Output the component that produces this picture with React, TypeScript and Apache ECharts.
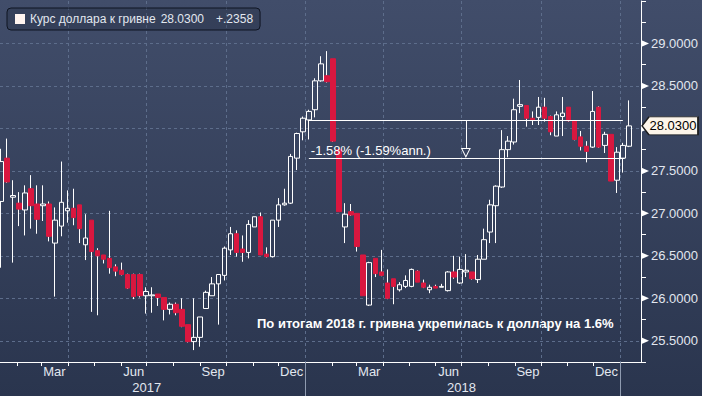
import React, { useEffect, useRef } from 'react';
import * as echarts from 'echarts';

// ---------- data ----------
const seriesName = 'Курс доллара к гривне';
const legendLast = '28.0300';
const legendChange = '+.2358';
const firstWeek = '2017-01-13';
const axisStart = '2017-01-12';
const axisEnd = '2019-01-25';

const opens = [
  27.14, 27.65, 27.19, 27.12, 27.04, 27.29, 27.11, 27.09, 27.11, 26.65,
  26.85, 27.03, 27.06, 27.10, 26.63, 26.92, 26.56, 26.51, 26.47, 26.37,
  26.33, 26.28, 26.28, 26.28, 26.03, 26.03, 26.05, 26.01, 25.87, 25.93,
  25.87, 25.69, 25.49, 25.54, 25.88, 26.03, 26.17, 26.27, 26.57, 26.76,
  26.58, 26.54, 26.84, 26.96, 26.52, 26.49, 26.92, 27.10, 27.12, 27.65,
  27.96, 28.10, 28.22, 28.56, 28.62, 28.82, 27.75, 26.84, 27.02, 27.00,
  26.51, 25.92, 26.47, 26.31, 26.18, 26.23, 26.10, 26.14, 26.14, 26.32,
  26.18, 26.10, 26.14, 26.13, 26.09, 26.31, 26.18, 26.31, 26.31, 26.22,
  26.46, 26.78, 27.09, 27.31, 27.75, 27.84, 28.26, 28.27, 28.12, 28.13,
  28.25, 28.14, 27.91, 28.14, 28.25, 28.09, 27.90, 27.79, 27.78, 28.25,
  27.80, 27.93, 27.39, 27.65, 27.79,
];
const closes = [
  27.61, 27.37, 27.21, 27.05, 27.24, 27.09, 26.93, 27.11, 26.73, 26.92,
  27.13, 27.06, 26.95, 26.82, 26.71, 26.55, 26.50, 26.46, 26.36, 26.32,
  26.28, 26.12, 26.02, 26.03, 26.08, 26.04, 26.01, 25.87, 25.93, 25.83,
  25.67, 25.49, 25.54, 25.78, 26.07, 26.17, 26.28, 26.59, 26.76, 26.54,
  26.54, 26.87, 26.96, 26.51, 26.49, 26.92, 27.10, 27.12, 27.67, 27.94,
  28.12, 28.20, 28.56, 28.76, 28.55, 27.85, 27.02, 26.99, 26.98, 26.61,
  26.03, 26.42, 26.29, 26.27, 26.00, 26.14, 26.16, 26.21, 26.34, 26.19,
  26.13, 26.13, 26.12, 26.14, 26.31, 26.25, 26.34, 26.33, 26.23, 26.46,
  26.69, 27.10, 27.32, 27.75, 27.85, 28.22, 28.28, 28.12, 28.10, 28.25,
  28.12, 27.96, 28.16, 28.18, 28.09, 27.87, 27.79, 27.73, 28.20, 27.78,
  27.93, 27.38, 27.72, 27.80, 28.03,
];
const lows = [
  26.36, 27.36, 26.42, 26.85, 26.74, 26.82, 26.76, 26.91, 26.67, 26.02,
  26.73, 26.89, 26.86, 26.65, 26.45, 25.84, 25.80, 26.41, 26.29, 26.26,
  26.27, 26.11, 25.99, 26.01, 25.82, 25.83, 25.91, 25.74, 25.81, 25.80,
  25.66, 25.48, 25.39, 25.43, 25.88, 26.03, 25.69, 26.21, 26.51, 26.49,
  26.43, 26.47, 26.84, 26.51, 26.48, 26.48, 26.84, 27.09, 27.11, 27.51,
  27.86, 27.87, 28.13, 28.55, 28.54, 27.84, 27.02, 26.65, 26.97, 26.55,
  26.03, 25.91, 26.25, 26.26, 25.99, 25.93, 26.08, 26.12, 26.13, 26.19,
  26.12, 26.06, 26.12, 26.13, 26.08, 26.23, 26.17, 26.25, 26.22, 26.18,
  26.46, 26.65, 26.65, 27.30, 27.66, 27.81, 28.18, 28.02, 28.04, 28.04,
  28.08, 27.92, 27.91, 27.91, 28.08, 27.86, 27.74, 27.60, 27.77, 27.77,
  27.71, 27.38, 27.24, 27.48, 27.78,
];
const highs = [
  27.76, 27.88, 27.39, 27.25, 27.33, 27.45, 27.33, 27.33, 27.14, 27.07,
  27.61, 27.27, 27.29, 27.10, 26.99, 26.92, 26.59, 26.51, 27.03, 26.40,
  26.42, 26.29, 26.29, 26.29, 26.13, 26.13, 26.05, 26.01, 25.95, 25.95,
  26.00, 25.69, 26.00, 25.78, 26.09, 26.25, 26.28, 26.61, 26.84, 26.80,
  26.74, 26.92, 26.96, 27.01, 26.60, 26.92, 27.18, 27.29, 27.70, 27.95,
  28.14, 28.22, 28.59, 28.85, 28.91, 28.82, 27.76, 27.12, 27.11, 27.00,
  26.51, 26.43, 26.47, 26.57, 26.34, 26.23, 26.19, 26.27, 26.35, 26.33,
  26.22, 26.16, 26.16, 26.17, 26.32, 26.50, 26.49, 26.52, 26.31, 26.51,
  26.82, 27.16, 27.33, 27.98, 27.91, 28.35, 28.57, 28.27, 28.20, 28.37,
  28.36, 28.15, 28.20, 28.37, 28.25, 28.09, 27.97, 27.85, 28.44, 28.26,
  27.96, 27.93, 27.78, 27.83, 28.33,
];

const yGridLevels = [25.5, 26, 26.5, 27, 27.5, 28, 28.5, 29];
const yHiddenLabels = [28]; // covered by the last-price marker
const monthNames = ['Jan', 'Feb', 'Mar', 'Apr', 'May', 'Jun', 'Jul', 'Aug', 'Sep', 'Oct', 'Nov', 'Dec'];
const labeledMonths = ['03', '06', '09', '12'];
const quarterMonths = ['01', '04', '07', '10'];

const changeFrom = '2018-01-05';
const changeToUpper = '2019-01-04';
const changeToLower = '2019-01-06';
const changeUpper = 28.095;
const changeLower = 27.651;
const changeText = '-1.58% (-1.59%ann.)';
const arrowDate = '2018-07-06';
const lastPrice = 28.03;
const noteText = 'По итогам 2018 г. гривна укрепилась к доллару на 1.6%';

// ---------- styling ----------
const FONT = '"Liberation Sans", Arial, sans-serif';
const RED = '#d9173f';
const WHITE = '#ffffff';
const LABEL = '#e2e7ef';
const GRID = '#5d6d8b';

const DAY = 86400000;
const toUTC = (s: string) => Date.parse(s + 'T00:00:00Z');
const fmt = (t: number) => new Date(t).toISOString().slice(0, 10);

export default function App() {
  const ref = useRef<HTMLDivElement>(null);
  useEffect(() => {
    document.body.style.margin = '0';
    if (!ref.current) return;
    const chart = echarts.init(ref.current, undefined, { renderer: 'svg' });

    const days: string[] = [];
    for (let t = toUTC(axisStart); t <= toUTC(axisEnd); t += DAY) days.push(fmt(t));
    const idx = new Map(days.map((d, i) => [d, i]));
    const empty = () => ['-', '-', '-', '-'];
    const bodyData: any[] = days.map(empty);
    const upData: any[] = days.map(empty);
    const loData: any[] = days.map(empty);
    opens.forEach((o, k) => {
      const d = fmt(toUTC(firstWeek) + k * 7 * DAY);
      const i = idx.get(d);
      if (i === undefined) return;
      const c = closes[k];
      const top = Math.max(o, c);
      const bot = Math.min(o, c);
      bodyData[i] = [o, c, bot, top];
      upData[i] = [top, top, top, highs[k]];
      loData[i] = [bot, bot, lows[k], bot];
    });
    const lastDay = days[days.length - 1];

    const wickStyle = { color: WHITE, color0: WHITE, borderColor: WHITE, borderColor0: WHITE, borderWidth: 1 };

    const option: any = {
      animation: false,
      backgroundColor: 'transparent',
      textStyle: { fontFamily: FONT },
      grid: { left: 0, right: 61, top: 1, bottom: 34, containLabel: false },
      legend: {
        left: 7,
        top: 8,
        padding: [5, 7, 5, 8],
        itemWidth: 10,
        itemHeight: 10,
        icon: 'rect',
        selectedMode: false,
        backgroundColor: 'rgba(20,28,45,0.25)',
        borderColor: '#0f1522',
        borderWidth: 1,
        borderRadius: 4,
        data: [{ name: seriesName, itemStyle: { color: '#fff4ef', borderWidth: 0 } }],
        formatter: (name: string) => `{n|${name}}{v|${legendLast}}{c|${legendChange}}`,
        textStyle: {
          color: LABEL,
          fontSize: 12,
          fontFamily: FONT,
          rich: {
            n: { color: LABEL, fontSize: 12, fontFamily: FONT, lineHeight: 16 },
            v: { color: LABEL, fontSize: 12, fontFamily: FONT, lineHeight: 16, padding: [0, 0, 0, 5] },
            c: { color: LABEL, fontSize: 12, fontFamily: FONT, lineHeight: 16, padding: [0, 0, 0, 12] },
          },
        },
      },
      xAxis: [
        {
          type: 'category',
          data: days,
          boundaryGap: false,
          axisLine: { show: true, lineStyle: { color: WHITE, width: 1 } },
          axisTick: {
            show: true,
            interval: (_i: number, v: string) => v.slice(8) === '01',
            length: 4,
            lineStyle: { color: WHITE },
          },
          axisLabel: {
            interval: (_i: number, v: string) => v.slice(8) === '16' && labeledMonths.includes(v.slice(5, 7)),
            formatter: (v: string) => monthNames[+v.slice(5, 7) - 1],
            color: LABEL,
            fontSize: 13,
            fontFamily: FONT,
            margin: 3,
          },
          splitLine: {
            show: true,
            interval: (_i: number, v: string) => v.slice(8) === '01' && quarterMonths.includes(v.slice(5, 7)),
            lineStyle: { color: GRID, type: [3, 3], width: 1 },
          },
        },
        {
          type: 'category',
          data: days,
          boundaryGap: false,
          position: 'bottom',
          offset: 0,
          axisLine: { show: false },
          axisTick: {
            show: true,
            interval: (_i: number, v: string) => v.slice(5) === '01-01',
            length: 35,
            lineStyle: { color: '#8f9bb0' },
          },
          axisLabel: {
            interval: (_i: number, v: string) => v.slice(5) === '07-01',
            formatter: (v: string) => v.slice(0, 4),
            color: LABEL,
            fontSize: 13,
            fontFamily: FONT,
            margin: 19,
          },
          splitLine: { show: false },
        },
      ],
      yAxis: {
        type: 'value',
        position: 'right',
        min: 25.25,
        max: 29.5,
        interval: 0.25,
        axisLine: { show: true, lineStyle: { color: WHITE, width: 1 } },
        axisTick: { show: true, length: 5, lineStyle: { color: WHITE } },
        axisLabel: {
          formatter: (v: number) =>
            Math.abs(v * 2 - Math.round(v * 2)) < 1e-6 &&
            v >= 25.5 &&
            v <= 29 &&
            !yHiddenLabels.some((h) => Math.abs(h - v) < 1e-6)
              ? v.toFixed(4)
              : '',
          color: LABEL,
          fontSize: 13,
          fontFamily: FONT,
          margin: 10,
        },
        splitLine: { show: false },
      },
      series: [
        {
          name: 'lower',
          type: 'candlestick',
          large: false,
          data: loData,
          barWidth: 1,
          itemStyle: wickStyle,
          markLine: {
            silent: true,
            z: 1,
            symbol: ['none', 'none'],
            label: { show: false },
            lineStyle: { color: GRID, type: [3, 3], width: 1 },
            data: yGridLevels.map((v) => ({ yAxis: v })),
          },
        },
        {
          name: 'upper',
          type: 'candlestick',
          large: false,
          data: upData,
          barWidth: 1,
          itemStyle: wickStyle,
        },
        {
          name: seriesName,
          type: 'candlestick',
          large: false,
          data: bodyData,
          barWidth: 5,
          itemStyle: { color: 'transparent', color0: RED, borderColor: WHITE, borderColor0: RED, borderWidth: 1 },
          markLine: {
            silent: true,
            symbol: ['none', 'none'],
            label: { show: false },
            lineStyle: { color: WHITE, type: 'solid', width: 1 },
            data: [
              [{ coord: [changeFrom, changeUpper] }, { coord: [changeToUpper, changeUpper] }],
              [
                {
                  coord: [changeFrom, changeLower],
                  label: {
                    show: true,
                    position: 'insideStartTop',
                    formatter: changeText,
                    color: WHITE,
                    fontSize: 13,
                    fontFamily: FONT,
                    distance: [2, 1],
                  },
                },
                { coord: [changeToLower, changeLower] },
              ],
              [{ coord: [arrowDate, changeUpper] }, { coord: [arrowDate, changeLower + 0.12] }],
            ],
          },
          markPoint: {
            silent: true,
            label: { show: false },
            data: [
              ...yGridLevels.map((v) => ({
                coord: [lastDay, v],
                symbol: 'triangle',
                symbolSize: [7, 8],
                symbolRotate: -90,
                symbolOffset: [4, 0],
                itemStyle: { color: WHITE },
                label: { show: false },
              })),
              {
                coord: [arrowDate, changeLower + 0.059],
                symbol: 'path://M0,0L10,0L5,10Z M1.6,0.9L5,7.8L8.4,0.9Z',
                symbolSize: [10, 10],
                itemStyle: { color: WHITE },
                label: { show: false },
              },
              {
                coord: [lastDay, lastPrice],
                symbol: 'path://M0,9L7,0L56,0L56,18L7,18Z',
                symbolSize: [56, 18],
                symbolOffset: [29, 0],
                itemStyle: { color: '#fdf5ea', borderColor: '#1c1c1c', borderWidth: 1 },
                label: {
                  show: true,
                  position: 'inside',
                  formatter: legendLast,
                  color: '#000000',
                  fontSize: 13,
                  fontFamily: FONT,
                  offset: [3, 0],
                },
              },
            ],
          },
        },
      ],
      graphic: [
        {
          type: 'text',
          left: 257,
          top: 317,
          style: { text: noteText, fill: WHITE, font: `bold 13px ${FONT}` },
        },
      ],
    };
    chart.setOption(option);
    return () => chart.dispose();
  }, []);

  return (
    <div
      ref={ref}
      style={{
        position: 'fixed',
        left: 0,
        top: 0,
        width: 702,
        height: 396,
        background: 'linear-gradient(180deg, #414d6a 0%, #2a354e 100%)',
      }}
    />
  );
}
